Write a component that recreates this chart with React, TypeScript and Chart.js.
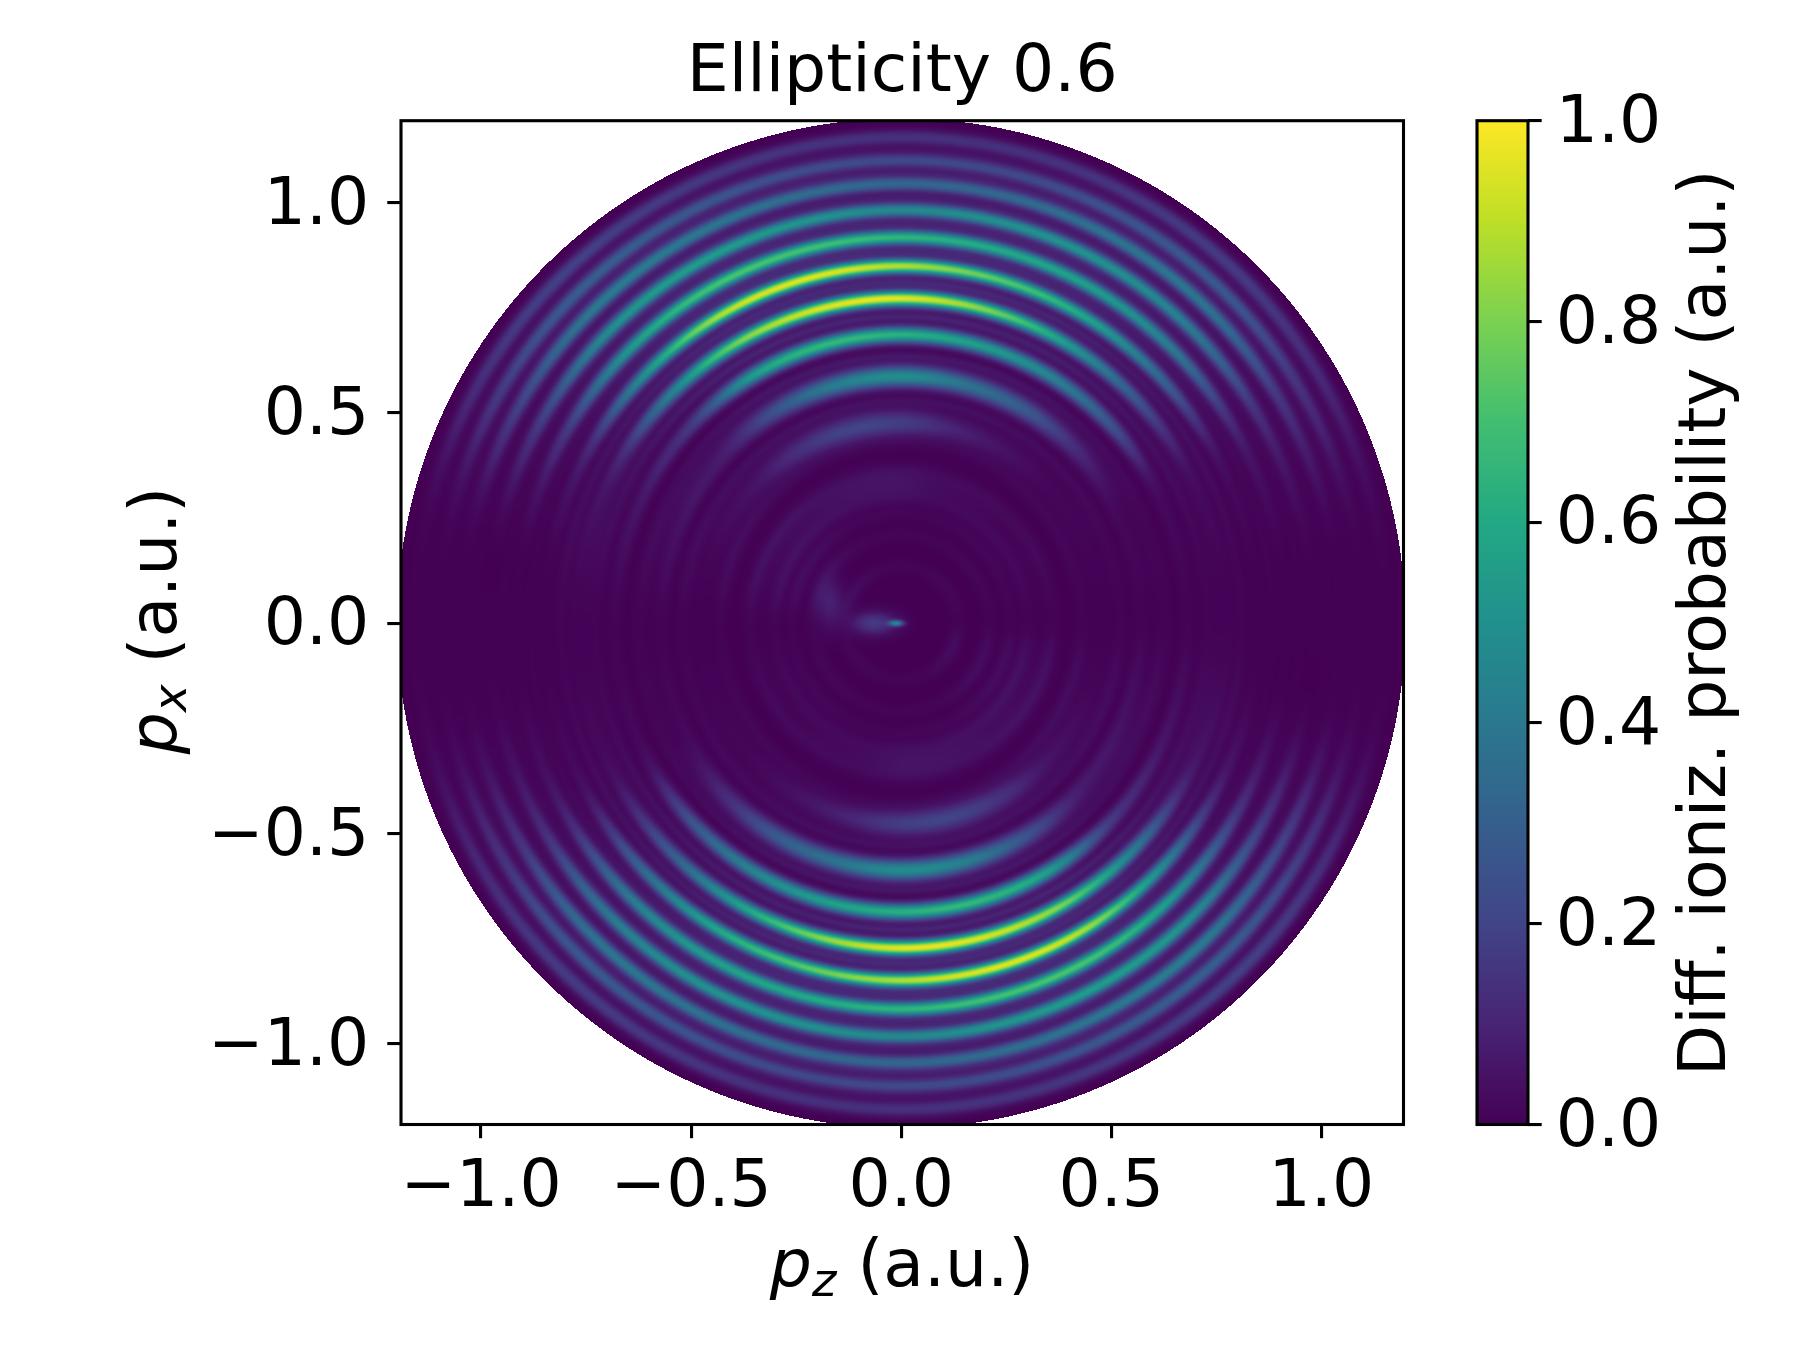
import { useEffect, useRef } from "react"
import { Chart, registerables } from "chart.js"

Chart.register(...registerables)

const FONT = '"DejaVu Sans"'
const FONT_SIZE = 66.4
const SPINE = 3.1
const TICK_LEN = 13.7

// viridis, evenly spaced from 0 to 1
const viridisStops = ["#440154", "#482475", "#414487", "#355f8d", "#2a788e", "#21908d", "#22a884", "#42be71", "#7ad151", "#bddf26", "#fde725"]

const axisTicks = [-1, -0.5, 0, 0.5, 1]
const colorbarTicks = [0, 0.2, 0.4, 0.6, 0.8, 1]
const outerRadius = 1.2

// angles (deg) of the columns below, the pattern repeats after 180 deg
const angles = [0, 15, 30, 45, 60, 75, 90, 105, 120, 135, 150, 165]

// main rings
const ringRadii = [1.155, 1.1, 1.045, 0.982, 0.917, 0.849, 0.772, 0.686, 0.587, 0.476, 0.332]
const ringSigma = [0.0125, 0.0125, 0.0125, 0.0125, 0.0125, 0.0122, 0.0125, 0.0135, 0.017, 0.021, 0.028]
const ringPeaks = [
  [0.004, 0.02, 0.11, 0.17, 0.16, 0.14, 0.14, 0.15, 0.17, 0.19, 0.13, 0.02],
  [0.004, 0.02, 0.14, 0.27, 0.26, 0.22, 0.22, 0.24, 0.28, 0.29, 0.17, 0.025],
  [0.004, 0.02, 0.15, 0.37, 0.38, 0.34, 0.33, 0.36, 0.4, 0.4, 0.2, 0.025],
  [0.004, 0.02, 0.13, 0.4, 0.5, 0.5, 0.47, 0.52, 0.55, 0.48, 0.19, 0.02],
  [0.004, 0.015, 0.1, 0.4, 0.55, 0.6, 0.65, 0.7, 0.7, 0.52, 0.17, 0.02],
  [0.004, 0.012, 0.07, 0.36, 0.6, 0.75, 0.88, 0.95, 0.88, 0.52, 0.13, 0.02],
  [0.003, 0.01, 0.05, 0.28, 0.55, 0.8, 0.95, 0.93, 0.78, 0.42, 0.09, 0.015],
  [0.003, 0.008, 0.04, 0.27, 0.45, 0.55, 0.62, 0.65, 0.55, 0.18, 0.06, 0.015],
  [0.002, 0.006, 0.02, 0.12, 0.28, 0.38, 0.48, 0.42, 0.26, 0.08, 0.04, 0.012],
  [0.002, 0.006, 0.012, 0.02, 0.05, 0.1, 0.18, 0.2, 0.14, 0.06, 0.03, 0.01],
  [0.002, 0.005, 0.008, 0.012, 0.02, 0.03, 0.05, 0.05, 0.04, 0.03, 0.02, 0.01],
]

// weak rings sitting in the gaps between the main ones
const minorRadii = [1.127, 1.072, 1.013, 0.95, 0.883, 0.81, 0.729, 0.636, 0.53]
const minorPeaks = [0.02, 0.035, 0.045, 0.06, 0.08, 0.09, 0.08, 0.05, 0.03]
const minorAngle = [0.05, 0.1, 0.25, 0.5, 0.8, 0.95, 1, 1, 0.95, 0.6, 0.25, 0.08]

// very faint rings seen near the horizontal and in the middle
const faintRadii = [0.81, 0.78, 0.75, 0.725, 0.68, 0.62, 0.57, 0.52, 0.43, 0.36, 0.3, 0.26, 0.21, 0.135]
const faintPeaks = [0.02, 0.02, 0.025, 0.02, 0.025, 0.025, 0.03, 0.025, 0.03, 0.035, 0.035, 0.03, 0.03, 0.03]
const faintAngle = [0.2, 0.35, 0.5, 0.5, 0.4, 0.3, 0.4, 0.4, 0.5, 0.8, 1, 0.9]

// small blobs at the origin: pz, px, widths, value
const spotX = [-0.17, -0.065, -0.012]
const spotY = [0.05, 0, 0]
const spotSigmaX = [0.022, 0.035, 0.012]
const spotSigmaY = [0.04, 0.018, 0.005]
const spotPeak = [0.09, 0.17, 0.42]

function angleValue(row: number[], theta: number) {
  // smooth lookup over the cyclic angle columns
  const n = angles.length
  const t = (((theta % 180) + 180) % 180) / (angles[1] - angles[0])
  const i = Math.floor(t)
  const f = t - i
  const p0 = row[(i - 1 + n) % n]
  const p1 = row[i % n]
  const p2 = row[(i + 1) % n]
  const p3 = row[(i + 2) % n]
  const v = 0.5 * (2 * p1 + (p2 - p0) * f + (2 * p0 - 5 * p1 + 4 * p2 - p3) * f * f + (3 * p1 - p0 - 3 * p2 + p3) * f * f * f)
  return Math.max(0, v)
}

function gauss(d: number, s: number) {
  const u = d / s
  return u * u > 16 ? 0 : Math.exp(-0.5 * u * u)
}

function fieldValue(x: number, y: number) {
  const r = Math.hypot(x, y)
  const theta = (Math.atan2(y, x) * 180) / Math.PI
  let v = 0
  ringRadii.forEach((rr, i) => {
    const g = gauss(r - rr, ringSigma[i])
    if (g > 0) v += g * angleValue(ringPeaks[i], theta)
  })
  minorRadii.forEach((rr, i) => {
    const g = gauss(r - rr, 0.0075)
    if (g > 0) v += g * minorPeaks[i] * angleValue(minorAngle, theta)
  })
  faintRadii.forEach((rr, i) => {
    const g = gauss(r - rr, 0.011)
    if (g > 0) v += g * faintPeaks[i] * angleValue(faintAngle, theta)
  })
  spotX.forEach((sx, i) => {
    v += spotPeak[i] * gauss(x - sx, spotSigmaX[i]) * gauss(y - spotY[i], spotSigmaY[i])
  })
  return Math.min(1, v)
}

function hexToRgb(hex: string) {
  return [1, 3, 5].map((i) => parseInt(hex.slice(i, i + 2), 16))
}

function viridis(v: number) {
  const t = v * (viridisStops.length - 1)
  const i = Math.min(Math.floor(t), viridisStops.length - 2)
  const a = hexToRgb(viridisStops[i])
  const b = hexToRgb(viridisStops[i + 1])
  return a.map((c, k) => c + (b[k] - c) * (t - i))
}

const ringField = {
  id: "ringField",
  beforeDatasetsDraw(chart: Chart) {
    const { ctx, chartArea, scales } = chart
    const left = Math.round(chartArea.left)
    const top = Math.round(chartArea.top)
    const w = Math.round(chartArea.right) - left
    const h = Math.round(chartArea.bottom) - top
    const img = ctx.createImageData(w, h)
    for (let j = 0; j < h; j++) {
      const y = scales.y.getValueForPixel(top + j + 0.5) as number
      for (let i = 0; i < w; i++) {
        const x = scales.x.getValueForPixel(left + i + 0.5) as number
        if (Math.hypot(x, y) > outerRadius) continue
        const c = viridis(fieldValue(x, y))
        const o = (j * w + i) * 4
        img.data[o] = c[0]
        img.data[o + 1] = c[1]
        img.data[o + 2] = c[2]
        img.data[o + 3] = 255
      }
    }
    ctx.putImageData(img, left, top)
  },
}

const frame = {
  id: "frame",
  afterDraw(chart: Chart) {
    const { ctx, chartArea: a } = chart
    ctx.save()
    ctx.strokeStyle = "#000"
    ctx.lineWidth = SPINE
    ctx.strokeRect(a.left, a.top, a.right - a.left, a.bottom - a.top)
    ctx.restore()
  },
}

// "p", subscript, then " (a.u.)", drawn centred at the origin of ctx
function drawMomentumLabel(ctx: CanvasRenderingContext2D, sub: string) {
  const italic = `oblique ${FONT_SIZE}px ${FONT}`
  const small = `oblique ${FONT_SIZE * 0.7}px ${FONT}`
  const plain = `${FONT_SIZE}px ${FONT}`
  ctx.textBaseline = "alphabetic"
  ctx.textAlign = "left"
  ctx.font = italic
  const w1 = ctx.measureText("p").width
  ctx.font = small
  const w2 = ctx.measureText(sub).width
  ctx.font = plain
  const w3 = ctx.measureText(" (a.u.)").width
  let x = -(w1 + w2 + w3) / 2
  ctx.font = italic
  ctx.fillText("p", x, 0)
  x += w1
  ctx.font = small
  ctx.fillText(sub, x, 10)
  x += w2
  ctx.font = plain
  ctx.fillText(" (a.u.)", x, 0)
}

const axisLabels = {
  id: "axisLabels",
  afterDraw(chart: Chart) {
    const { ctx } = chart
    ctx.save()
    ctx.fillStyle = "#000"
    ctx.save()
    ctx.translate(902, 1286)
    drawMomentumLabel(ctx, "z")
    ctx.restore()
    ctx.save()
    ctx.translate(176, 620.5)
    ctx.rotate(-Math.PI / 2)
    drawMomentumLabel(ctx, "x")
    ctx.restore()
    ctx.restore()
  },
}

const colorbarLabel = {
  id: "colorbarLabel",
  afterDraw(chart: Chart) {
    const { ctx } = chart
    ctx.save()
    ctx.fillStyle = "#000"
    ctx.font = `${FONT_SIZE}px ${FONT}`
    ctx.textAlign = "center"
    ctx.textBaseline = "alphabetic"
    ctx.translate(325, 622.8)
    ctx.rotate(-Math.PI / 2)
    ctx.fillText("Diff. ioniz. probability (a.u.)", 0, 0)
    ctx.restore()
  },
}

const tickLabel = (value: number | string) => Number(value).toFixed(1).replace("-", "\u2212")

const axisScale = (min: number, max: number) => ({
  type: "linear" as const,
  min,
  max,
  afterBuildTicks: (scale: any) => {
    scale.ticks = axisTicks.map((value) => ({ value }))
  },
  border: { display: false },
  grid: { drawOnChartArea: false, color: "#000", lineWidth: SPINE, tickLength: TICK_LEN },
})

const tickFont = { family: FONT, size: FONT_SIZE }

export default function App() {
  const mainRef = useRef<HTMLCanvasElement>(null)
  const barRef = useRef<HTMLCanvasElement>(null)

  useEffect(() => {
    if (!mainRef.current || !barRef.current) return

    const main = new Chart(mainRef.current, {
      type: "scatter",
      data: { datasets: [] },
      plugins: [ringField, frame, axisLabels],
      options: {
        animation: false,
        responsive: false,
        devicePixelRatio: 1,
        layout: { padding: { left: 0, top: 0, right: 396.5, bottom: 0 } },
        scales: {
          x: {
            ...axisScale(-1.1905, 1.1955),
            position: "bottom",
            afterFit: (scale: any) => {
              scale.height = 225.5
            },
            ticks: { color: "#000", padding: 11, maxRotation: 0, autoSkip: false, font: tickFont, callback: tickLabel },
          },
          y: {
            ...axisScale(-1.1915, 1.1945),
            position: "left",
            afterFit: (scale: any) => {
              scale.width = 401
            },
            ticks: { color: "#000", padding: 18, labelOffset: 4, autoSkip: false, font: tickFont, callback: tickLabel },
          },
        },
        plugins: {
          legend: { display: false },
          tooltip: { enabled: false },
          title: {
            display: true,
            text: "Ellipticity 0.6",
            fullSize: false,
            color: "#000",
            font: { family: FONT, size: FONT_SIZE, weight: "normal", lineHeight: 1 },
            padding: { top: 41, bottom: 13.3 },
          },
        },
      },
    })

    const bar = new Chart(barRef.current, {
      type: "bar",
      data: {
        labels: [""],
        datasets: [
          {
            data: [1],
            categoryPercentage: 1,
            barPercentage: 1,
            backgroundColor: (context: any) => {
              const area = context.chart.chartArea
              if (!area) return viridisStops[0]
              const g = context.chart.ctx.createLinearGradient(0, area.bottom, 0, area.top)
              viridisStops.forEach((c, i) => g.addColorStop(i / (viridisStops.length - 1), c))
              return g
            },
          },
        ],
      },
      plugins: [frame, colorbarLabel],
      options: {
        animation: false,
        responsive: false,
        devicePixelRatio: 1,
        layout: { padding: { left: 77, top: 120.7, right: 0, bottom: 225.5 } },
        scales: {
          x: { display: false },
          y: {
            position: "right",
            min: 0,
            max: 1,
            afterBuildTicks: (scale: any) => {
              scale.ticks = colorbarTicks.map((value) => ({ value }))
            },
            afterFit: (scale: any) => {
              scale.width = 272
            },
            border: { display: false },
            grid: { drawOnChartArea: false, color: "#000", lineWidth: SPINE, tickLength: TICK_LEN },
            ticks: { color: "#000", padding: 14, labelOffset: 4, font: tickFont, callback: tickLabel },
          },
        },
        plugins: { legend: { display: false }, tooltip: { enabled: false } },
      },
    })

    return () => {
      main.destroy()
      bar.destroy()
    }
  }, [])

  return (
    <div style={{ position: "absolute", left: 0, top: 0, width: 1800, height: 1350, overflow: "hidden", background: "#fff" }}>
      <canvas ref={mainRef} width={1800} height={1350} style={{ position: "absolute", left: 0, top: 0 }} />
      <canvas ref={barRef} width={400} height={1350} style={{ position: "absolute", left: 1400, top: 0 }} />
    </div>
  )
}
